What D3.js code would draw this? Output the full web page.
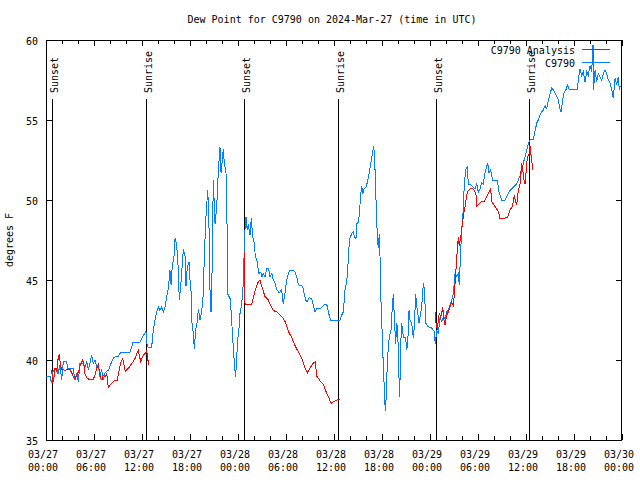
<!DOCTYPE html>
<html><head><meta charset="utf-8">
<script src="https://cdn.jsdelivr.net/npm/d3@7"></script>
<style>
body{margin:0;background:#fff;}
text{font-family:"DejaVu Sans Mono","Liberation Mono",monospace;font-size:10px;fill:#000;}
</style></head><body>
<svg id="c" width="640" height="480"></svg>
<script>
// ---- data (hours since 2024-03-27 00:00 UTC) ----
const titleText = "Dew Point for C9790 on 2024-Mar-27 (time in UTC)";
const yLabel = "degrees F";
const seriesNames = ["C9790 Analysis", "C9790"];
const yTicks = [35, 40, 45, 50, 55, 60];
const sunHours = [0.8, 12.54, 24.8, 36.54, 48.75, 60.4];
const sunLabels = ["Sunset", "Sunrise", "Sunset", "Sunrise", "Sunset", "Sunrise"];

const obsHours = [0,0.5,0.7,0.88,1.34,1.5,1.75,1.96,2.16,2.59,2.69,3.38,3.63,3.84,4.04,4.25,4.63,4.88,5.09,5.29,5.5,5.71,5.91,6.13,6.34,6.54,6.75,6.96,7.16,7.38,7.59,7.79,8,8.21,8.41,8.63,9,9.25,9.46,10.5,10.71,10.88,11.75,11.96,12.25,12.5,12.59,12.75,13.21,13.41,13.63,13.84,14.04,14.25,14.46,14.66,14.88,15.09,15.29,15.5,15.63,15.79,16,16.13,16.34,16.54,16.66,16.84,17.04,17.16,17.38,17.5,17.66,17.88,18,18.13,18.25,18.41,18.54,18.71,18.91,19.04,19.25,19.46,19.66,19.79,20,20.21,20.34,20.5,20.63,20.79,20.91,21.13,21.34,21.46,21.63,21.75,21.88,22.04,22.16,22.29,22.5,22.66,22.75,23,23.13,23.25,23.41,23.59,23.71,23.84,23.96,24.13,24.25,24.46,24.66,24.84,25,25.16,25.29,25.5,25.66,25.84,26.04,26.16,26.41,26.59,26.84,27,27.16,27.38,27.59,27.84,28,28.25,28.41,28.63,28.84,29.16,29.46,29.66,29.88,30.09,30.29,30.5,30.91,31.13,31.34,31.54,32.09,32.25,32.46,32.66,32.88,33.21,33.41,33.63,33.84,34.25,34.66,34.96,35.16,35.34,35.59,36.75,36.96,37.16,37.38,37.59,37.71,37.84,38,38.21,38.41,38.54,38.75,38.84,39.04,39.16,39.34,39.46,39.59,39.75,40,40.16,40.34,40.5,40.66,40.84,40.96,41.09,41.21,41.34,41.41,41.54,41.66,41.75,41.88,42.04,42.16,42.29,42.41,42.54,42.66,42.79,42.91,43.13,43.29,43.41,43.54,43.71,43.84,43.96,44.13,44.21,44.34,44.46,44.59,44.75,44.96,45.09,45.21,45.38,45.5,45.71,45.91,46.04,46.21,46.34,46.46,46.63,46.75,46.96,47.09,47.21,47.34,47.46,47.75,48.21,48.5,48.66,48.84,49.04,49.25,49.46,49.66,49.88,50.09,50.29,50.5,50.71,50.91,51.13,51.34,51.54,51.66,51.84,52,52.16,52.29,52.46,52.59,52.66,52.79,53,53.21,53.41,53.63,53.84,54.04,54.25,54.46,54.66,54.88,55.09,55.21,55.38,55.59,55.71,55.84,56.41,56.63,56.75,56.96,57.38,57.59,57.79,58,58.41,58.63,58.84,59.04,59.25,59.46,59.66,59.88,60.09,60.29,60.5,60.91,61.13,61.34,61.54,61.75,61.96,62.16,62.38,62.59,62.79,63,63.21,63.41,63.63,63.84,64.04,64.25,64.38,64.59,64.75,65,65.16,65.41,66.41,66.54,66.75,66.96,67.16,67.38,67.59,67.79,68,68.21,68.38,68.44,68.63,68.84,69.04,69.25,69.46,69.66,69.88,70.09,70.29,70.5,70.71,70.91,71.13,71.34,71.54,71.66,71.79];
const obsValues = [39,39,38.56,39.3,39.5,39.1,39.7,38.75,39.9,39.9,39.5,39.5,38.75,39.2,38.65,39.8,39.8,39.6,39.9,39.4,39.8,40.3,39.8,40,39.6,39.7,38.96,39.4,38.75,39.2,39.3,39.35,39.6,39.9,40.1,40.2,40.2,40.4,40.5,40.5,40.8,41.1,41.1,41.35,41.6,41.8,41.06,40.8,40.8,41.9,42.5,43,43.3,43.1,43.3,43,43.3,43.96,44.5,45.6,44.7,45.9,46.5,47.6,47.2,45.6,43.75,44.6,46,46.9,46.5,44.6,45.8,46.1,45,44.3,42.3,41.7,40.7,41.9,42.4,43.2,42.5,43,44.1,46.5,49,50.6,49.4,44.4,43,46.25,51.25,48.5,49.6,51,52.5,53.3,51.7,52.5,53.2,52.3,51.7,47.7,44.1,43.85,43.1,42.1,40.8,39.5,38.96,40.2,41.25,42,42.9,43.5,44.8,47.9,48.96,48.1,48.5,47.8,48.85,47.7,47.3,46.5,46.15,45.4,45.5,45.2,45.4,45.2,45.7,45.7,45.2,45.4,45,44.8,44.4,44.2,44.4,43.5,44.2,45,45.4,45.6,45.6,45.5,45.2,44.7,44.6,44.2,43.75,43.65,43.9,43.85,43.4,43,43.2,43.2,43.4,43.5,43.4,42.9,42.5,42.5,42.8,43,44.4,44.9,45.6,46.9,47.6,47.9,48,47.7,47.6,48.5,48.6,49.1,50.3,50.9,50.4,50.7,50.8,51.1,51.5,52,52.5,53,53.4,52.5,50.5,48.85,47.7,47,47.9,46.5,43.6,41.4,39.7,38.2,36.8,37.8,39.8,40.8,41.4,41.9,43.3,44.1,42.7,41,42.3,41.9,38.85,37.7,41,42.3,41.7,41.4,41.4,40.6,41,43.1,42.5,42.3,41.4,42.1,44.1,43.4,43,42.3,42.7,43.3,44.4,44.8,44,42.3,42.1,42,41.8,41,41.8,41.7,42.6,42.4,42.7,42.6,43,43.1,43.4,43.75,44.1,45.4,45.2,45.4,44.7,46.9,48.4,49.4,51,51.9,52,52.1,51,51,50.9,50.8,50.7,51,50.5,50.7,51.1,51,51.7,52.1,52.3,51.7,51.9,51.5,51.25,51.25,50.5,50.3,50,50,50.2,50.4,50.6,50.8,50.9,51,51.25,51.5,51.7,52.3,52.7,53.1,53.5,53.75,53.8,54.3,54.8,55,55.3,55.5,55.6,55.9,55.7,56.25,56.6,57,56.9,56.7,56.5,56.25,55.7,55.5,56.25,56.7,56.9,57.2,56.9,56.9,57.5,58.2,57.8,58,57.4,58,57.8,58.4,58,59.7,56.9,58.1,57.4,57.9,57.7,57.5,57.9,58.1,57.9,57.5,57.3,56.9,56.35,57.6,57.2,57.7,56.9,57.1];

// analysis series: null marks a gap
const anaHours = [0.71,0.84,1,1.13,1.34,1.54,1.66,1.84,1.96,2.16,2.38,2.59,3,3.21,3.41,3.63,3.84,4.04,4.25,4.46,4.59,4.75,4.88,5.09,5.5,5.91,6.13,6.34,6.54,6.66,6.84,7,7.16,7.38,7.59,7.79,8.21,8.63,8.91,9.16,9.38,9.59,9.75,9.91,10.09,10.29,10.5,10.71,10.91,11.13,11.34,11.54,11.66,11.84,11.96,12.16,12.38,12.59,12.71,12.84,
  18,
  24.75,24.88,25.71,26.13,26.54,26.75,26.96,27.16,27.38,27.59,27.79,28,28.21,28.41,28.84,29.25,29.66,29.88,30.09,30.29,30.71,31.13,31.54,31.96,32.38,32.71,33,33.41,33.66,33.84,34.25,34.66,34.88,35.09,35.38,35.63,36,36.34,36.75,
  42,
  48.71,48.75,48.91,49.04,49.16,49.34,49.46,49.59,49.75,49.88,50.09,50.29,50.5,50.71,50.91,51.04,51.21,51.34,51.54,51.66,51.84,52,52.16,52.38,52.59,52.79,53,53.34,53.54,53.75,53.84,54.04,54.25,54.46,54.75,55,55.29,55.59,55.71,55.91,56.25,56.54,56.75,57.16,57.66,57.84,58,58.21,58.41,58.54,58.66,58.84,58.96,59.09,59.25,59.46,59.59,59.75,59.88,60,60.16,60.38,60.5,60.63,60.75,60.84];
const anaValues = [39.4,38.56,38.9,39.5,39.3,40.2,40.3,39.6,39.4,39.4,39.3,39.4,39.4,39.2,38.96,38.85,39.05,39.25,39.6,39.9,40,39.6,39.1,38.9,38.75,38.8,39.05,39.5,39.7,39.3,38.85,38.75,39.05,38.96,39.15,38.3,38.56,38.75,38.75,39.4,39.9,40.1,39.7,39.3,39.4,39.5,39.6,39.8,39.9,40.1,40.4,40.6,40.3,39.9,40.1,40.3,40.4,40.6,40.1,39.7,
  null,
  46.8,43.5,43.5,44.3,44.9,45,44.6,44.3,43.96,43.85,43.75,43.5,43.3,43.1,43,42.8,42.6,42.4,42.1,41.8,41.4,40.9,40.5,40.1,39.5,39.2,39.5,39.8,39.9,39,38.7,38.5,38.2,37.9,37.6,37.3,37.4,37.5,37.55,
  null,
  43,42.3,41.9,42.5,42.9,42.7,42.9,43.3,42.5,42.2,42.8,43,43.3,43.6,43.4,44.1,45.4,46.4,47.7,47.1,47.7,48.3,48.96,49.6,50.3,50.6,50.7,50.7,50.6,50.3,49.6,49.7,49.8,49.9,49.9,50.1,50.4,50.7,49.9,49.75,49.5,49.3,48.85,48.85,48.9,49.1,49.4,49.5,49.9,50.3,50,49.7,50.3,50.7,51,52.3,51.9,51.25,51,51.7,52.6,52.9,53.4,52.8,52.3,51.9];

// ---- drawing ----
const base = Date.UTC(2024, 2, 27, 0, 0);
const H = 3600 * 1000;
const toDate = h => new Date(base + h * H);
const svg = d3.select("#c");
const L = 46, R = 622, T = 40, B = 440;
const x = d3.scaleUtc().domain([toDate(0), toDate(72)]).range([L, R]);
const y = d3.scaleLinear().domain([35, 60]).range([B, T]);
const blue = "rgb(0,128,255)", red = "#ff0000";

// title
svg.append("text").attr("x", 332).attr("y", 23).attr("text-anchor", "middle").text(titleText);
// y label
svg.append("text").attr("transform", "translate(13,240) rotate(-90)").attr("text-anchor", "middle").text(yLabel);

// ticks
const major = d3.utcHour.every(6).range(toDate(0), toDate(72.01));
const minor = d3.utcHour.every(2).range(toDate(0), toDate(72.01));
const g = svg.append("g").attr("shape-rendering", "crispEdges").attr("stroke", "#000").attr("stroke-width", 1);
minor.forEach(d => {
  const xx = Math.round(x(d)) + 0.5;
  const len = (d.getUTCHours() % 6 === 0) ? 6 : 4;
  g.append("line").attr("x1", xx).attr("x2", xx).attr("y1", B).attr("y2", B - len);
  g.append("line").attr("x1", xx).attr("x2", xx).attr("y1", T).attr("y2", T + len);
});
yTicks.forEach(v => {
  const yy = Math.round(y(v)) + 0.5;
  g.append("line").attr("x1", L).attr("x2", L + 6).attr("y1", yy).attr("y2", yy);
  g.append("line").attr("x1", R).attr("x2", R - 6).attr("y1", yy).attr("y2", yy);
  svg.append("text").attr("x", 38).attr("y", yy + 4).attr("text-anchor", "end").text(v);
});
const fmtD = d3.utcFormat("%m/%d"), fmtT = d3.utcFormat("%H:%M");
major.forEach(d => {
  const xx = x(d) - 3;
  svg.append("text").attr("x", xx).attr("y", 458).attr("text-anchor", "middle").text(fmtD(d));
  svg.append("text").attr("x", xx).attr("y", 471).attr("text-anchor", "middle").text(fmtT(d));
});

// sun lines
sunHours.forEach((h, i) => {
  const xx = Math.round(x(toDate(h))) + 0.5;
  g.append("line").attr("x1", xx).attr("x2", xx).attr("y1", 99).attr("y2", B);
  svg.append("text").attr("transform", `translate(${xx + 5},93) rotate(-90)`).attr("text-anchor", "start").text(sunLabels[i]);
});

// series
const obs = obsHours.map((h, i) => ({t: toDate(h), v: obsValues[i]}));
const ana = anaHours.map((h, i) => ({t: toDate(h), v: anaValues[i]}));
const line = d3.line().defined(d => d.v != null).x(d => x(d.t)).y(d => y(d.v));
svg.append("path").datum(obs).attr("d", line).attr("fill", "none").attr("stroke", blue).attr("stroke-width", 1).attr("shape-rendering", "crispEdges");
svg.append("path").datum(ana).attr("d", line).attr("fill", "none").attr("stroke", red).attr("stroke-width", 1).attr("shape-rendering", "crispEdges");

// frame
g.append("rect").attr("x", L + 0.5).attr("y", T + 0.5).attr("width", R - L - 1).attr("height", B - T).attr("fill", "none");

// legend
const lg = [{name: seriesNames[0], c: red, yy: 50}, {name: seriesNames[1], c: blue, yy: 63}];
lg.forEach(o => {
  svg.append("text").attr("x", 575).attr("y", o.yy + 4).attr("text-anchor", "end").text(o.name);
  svg.append("line").attr("x1", 582).attr("x2", 610).attr("y1", o.yy - 0.5).attr("y2", o.yy - 0.5).attr("stroke", o.c).attr("stroke-width", 1).attr("shape-rendering", "crispEdges");
});
</script></body></html>
